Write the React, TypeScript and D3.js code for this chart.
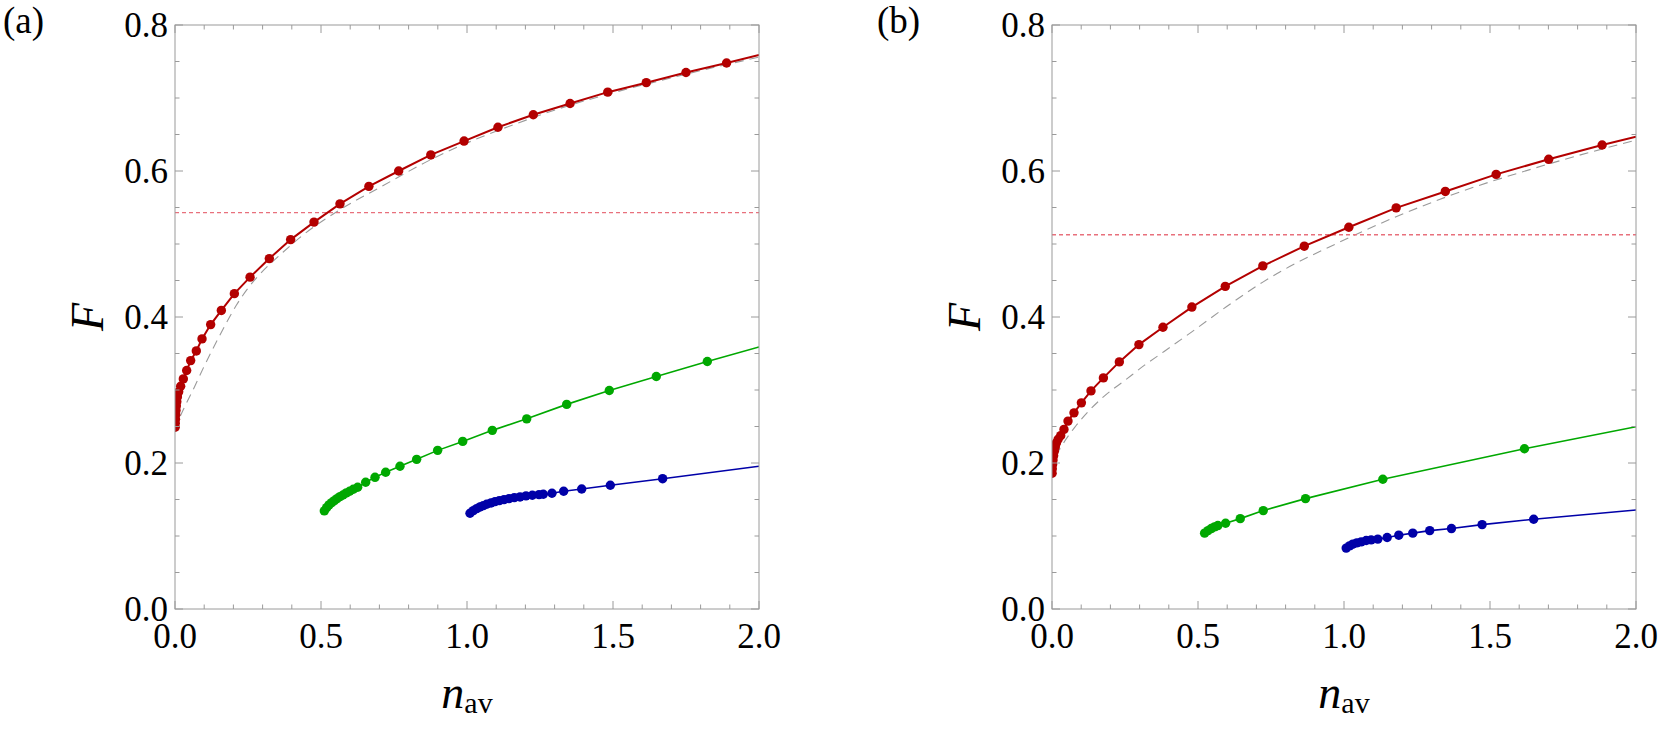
import React, { useEffect, useRef } from 'react';
import * as d3 from 'd3';

type Pt = [number, number];

const xTicks = [0, 0.5, 1.0, 1.5, 2.0];
const yTicks = [0, 0.2, 0.4, 0.6, 0.8];
const panelLabels = ['(a)', '(b)'];

// panel (a)
const redA: Pt[] = [
    [0.0005, 0.249], [0.001, 0.2545], [0.0016, 0.26], [0.0024, 0.266], [0.0034, 0.272],
    [0.0046, 0.278], [0.0062, 0.284], [0.0082, 0.2905], [0.0126, 0.2975], [0.0194, 0.3052],
    [0.0285, 0.3152], [0.040, 0.3267], [0.0537, 0.3403], [0.073, 0.3535], [0.0925, 0.370],
    [0.1221, 0.3896], [0.1587, 0.409], [0.2033, 0.432], [0.257, 0.4546], [0.323, 0.480],
    [0.396, 0.506], [0.476, 0.530], [0.565, 0.555], [0.664, 0.579], [0.766, 0.600],
    [0.876, 0.622], [0.990, 0.641], [1.106, 0.660], [1.227, 0.677], [1.353, 0.6925],
    [1.482, 0.708], [1.614, 0.721], [1.750, 0.735], [1.889, 0.748],
];
const greenA: Pt[] = [
    [0.5114, 0.1344], [0.5194, 0.1389], [0.5274, 0.1426], [0.5365, 0.1457], [0.5457, 0.1484],
    [0.5548, 0.1512], [0.565, 0.1539], [0.5753, 0.1562], [0.5868, 0.159], [0.5982, 0.1613],
    [0.6107, 0.164], [0.6256, 0.1668], [0.653, 0.1736], [0.685, 0.1804], [0.7215, 0.1873],
    [0.7705, 0.1955], [0.8276, 0.205], [0.8995, 0.2173], [0.9853, 0.2296], [1.0867, 0.2447],
    [1.2045, 0.2605], [1.3414, 0.2803], [1.4873, 0.2993], [1.6483, 0.3185], [1.823, 0.339],
];
const blueA: Pt[] = [
    [1.0103, 0.1312], [1.0216, 0.1348], [1.0332, 0.1375], [1.0445, 0.1398], [1.0559, 0.1416],
    [1.0673, 0.1435], [1.0822, 0.1453], [1.0959, 0.1471], [1.1107, 0.1484], [1.1267, 0.1498],
    [1.1438, 0.1512], [1.162, 0.1526], [1.1815, 0.1535], [1.202, 0.1549], [1.2237, 0.1558],
    [1.2466, 0.1567], [1.2613, 0.1572], [1.291, 0.1586], [1.331, 0.1613], [1.3928, 0.1644],
    [1.4908, 0.1695], [1.670, 0.1785],
];
const guideA: Pt[] = [
    [0, 0.245], [0.0103, 0.2565], [0.033, 0.277], [0.0616, 0.30], [0.1016, 0.334],
    [0.147, 0.370], [0.21, 0.416], [0.396, 0.498], [0.565, 0.547], [0.702, 0.5776],
    [0.873, 0.615], [1.227, 0.6733], [1.75, 0.7326], [2.0, 0.756],
];
// red, green, blue values where the curves leave the frame at n_av = 2
const endsA = [0.759, 0.359, 0.1955];
const thresholdA = 0.543;

// panel (b)
const redB: Pt[] = [
    [0.0004, 0.186], [0.001, 0.192], [0.002, 0.198], [0.0035, 0.204], [0.0055, 0.210],
    [0.008, 0.216], [0.0112, 0.222], [0.0152, 0.2275], [0.021, 0.2325], [0.0298, 0.2375],
    [0.041, 0.246], [0.0548, 0.2574], [0.0753, 0.2687], [0.1006, 0.2824], [0.1335, 0.2988],
    [0.176, 0.3166], [0.2306, 0.3385], [0.2977, 0.3622], [0.380, 0.386], [0.479, 0.4136],
    [0.5934, 0.4419], [0.722, 0.470], [0.864, 0.497], [1.0165, 0.523], [1.1787, 0.5495],
    [1.347, 0.572], [1.521, 0.5954], [1.701, 0.616], [1.884, 0.6356],
];
const greenB: Pt[] = [
    [0.5226, 0.1039], [0.534, 0.1074], [0.5455, 0.1102], [0.5568, 0.1125], [0.568, 0.1143],
    [0.5945, 0.1175], [0.6447, 0.1238], [0.7235, 0.1348], [0.8682, 0.1512], [1.133, 0.1777],
    [1.618, 0.2195],
];
const blueB: Pt[] = [
    [1.0075, 0.0834], [1.0188, 0.0865], [1.030, 0.0888], [1.0438, 0.0906], [1.0588, 0.092],
    [1.076, 0.0938], [1.093, 0.0947], [1.1157, 0.0957], [1.1478, 0.0979], [1.1876, 0.1011],
    [1.2355, 0.1039], [1.2936, 0.1074], [1.368, 0.1102], [1.473, 0.1156], [1.6496, 0.123],
];
const guideB: Pt[] = [
    [0, 0.19], [0.0034, 0.1996], [0.032, 0.2223], [0.0777, 0.2488], [0.123, 0.270],
    [0.180, 0.292], [0.249, 0.313], [0.317, 0.334], [0.374, 0.350], [0.48, 0.380],
    [0.597, 0.414], [0.722, 0.4478], [1.0165, 0.5085], [1.347, 0.564], [1.701, 0.6096],
    [2.0, 0.6424],
];
const endsB = [0.6468, 0.2496, 0.1357];
const thresholdB = 0.5126;

const seriesColors = ['#b30000', '#00a800', '#0000a8'];
const seriesWidths = [2, 1.6, 1.6];

const panels = [
    { series: [redA, greenA, blueA], ends: endsA, guide: guideA, threshold: thresholdA },
    { series: [redB, greenB, blueB], ends: endsB, guide: guideB, threshold: thresholdB },
];

const W = 1665, H = 742;
const plotW = 584, plotH = 584;
const origins = [[175, 25], [1052, 25]];
const serif = '"Liberation Serif", "Times New Roman", serif';
const frameColor = '#9a9a9a';

export default function App() {
    const svgRef = useRef<SVGSVGElement>(null);

    useEffect(() => {
        if (!svgRef.current) return;
        const svg = d3.select(svgRef.current);
        svg.selectAll('*').remove();

        const x = d3.scaleLinear().domain([0, 2]).range([0, plotW]);
        const y = d3.scaleLinear().domain([0, 0.8]).range([plotH, 0]);

        panels.forEach((p, i) => {
            const [ox, oy] = origins[i];
            const g = svg.append('g').attr('transform', `translate(${ox},${oy})`);

            svg.append('defs').append('clipPath').attr('id', `plot-clip-${i}`)
                .append('rect').attr('width', plotW).attr('height', plotH);

            const plot = g.append('g').attr('clip-path', `url(#plot-clip-${i})`);

            // gray dashed reference curve
            const smooth = d3.line<Pt>().x(d => x(d[0])).y(d => y(d[1])).curve(d3.curveMonotoneX);
            plot.append('path')
                .datum(p.guide)
                .attr('fill', 'none')
                .attr('stroke', '#9a9a9a')
                .attr('stroke-width', 1.1)
                .attr('stroke-dasharray', '9,6')
                .attr('d', smooth);

            // horizontal threshold
            plot.append('line')
                .attr('x1', 0).attr('x2', plotW)
                .attr('y1', y(p.threshold)).attr('y2', y(p.threshold))
                .attr('stroke', '#e8707c')
                .attr('stroke-width', 1.4)
                .attr('stroke-dasharray', '4,3');

            const straight = d3.line<Pt>().x(d => x(d[0])).y(d => y(d[1]));
            p.series.forEach((pts, k) => {
                plot.append('path')
                    .datum([...pts, [2, p.ends[k]] as Pt])
                    .attr('fill', 'none')
                    .attr('stroke', seriesColors[k])
                    .attr('stroke-width', seriesWidths[k])
                    .attr('d', straight);
            });
            p.series.forEach((pts, k) => {
                plot.selectAll(null)
                    .data(pts)
                    .enter().append('circle')
                    .attr('cx', d => x(d[0]))
                    .attr('cy', d => y(d[1]))
                    .attr('r', 4.7)
                    .attr('fill', seriesColors[k]);
            });

            // frame and ticks on all four sides
            g.append('rect')
                .attr('width', plotW).attr('height', plotH)
                .attr('fill', 'none')
                .attr('stroke', frameColor)
                .attr('stroke-width', 1);

            const xMinor = d3.range(0, 21).map(v => v / 10);
            const yMinor = d3.range(0, 17).map(v => v / 20);
            const isMajor = (v: number, step: number) => Math.abs(v / step - Math.round(v / step)) < 1e-6;

            xMinor.forEach(v => {
                const len = isMajor(v, 0.5) ? 8 : 4.5;
                g.append('line').attr('x1', x(v)).attr('x2', x(v)).attr('y1', plotH).attr('y2', plotH - len)
                    .attr('stroke', frameColor);
                g.append('line').attr('x1', x(v)).attr('x2', x(v)).attr('y1', 0).attr('y2', len)
                    .attr('stroke', frameColor);
            });
            yMinor.forEach(v => {
                const len = isMajor(v, 0.2) ? 8 : 4.5;
                g.append('line').attr('y1', y(v)).attr('y2', y(v)).attr('x1', 0).attr('x2', len)
                    .attr('stroke', frameColor);
                g.append('line').attr('y1', y(v)).attr('y2', y(v)).attr('x1', plotW).attr('x2', plotW - len)
                    .attr('stroke', frameColor);
            });

            yTicks.forEach(v => {
                g.append('text')
                    .attr('x', -7)
                    .attr('y', y(v) + 12)
                    .attr('text-anchor', 'end')
                    .attr('font-family', serif)
                    .attr('font-size', 35)
                    .text(v.toFixed(1));
            });
            xTicks.forEach(v => {
                g.append('text')
                    .attr('x', x(v))
                    .attr('y', plotH + 39)
                    .attr('text-anchor', 'middle')
                    .attr('font-family', serif)
                    .attr('font-size', 35)
                    .text(v.toFixed(1));
            });

            // axis titles
            const xt = g.append('text')
                .attr('x', plotW / 2)
                .attr('y', 683)
                .attr('text-anchor', 'middle')
                .attr('font-family', serif);
            xt.append('tspan').attr('font-style', 'italic').attr('font-size', 46).text('n');
            xt.append('tspan').attr('font-size', 30).attr('dy', 5).text('av');

            g.append('text')
                .attr('transform', `translate(-72,${plotH / 2}) rotate(-90)`)
                .attr('text-anchor', 'middle')
                .attr('font-family', serif)
                .attr('font-style', 'italic')
                .attr('font-size', 46)
                .text('F');

            svg.append('text')
                .attr('x', i === 0 ? 3 : 877)
                .attr('y', 33)
                .attr('font-family', serif)
                .attr('font-size', 37)
                .text(panelLabels[i]);
        });
    }, []);

    return (
        <div style={{ position: 'absolute', left: 0, top: 0, background: '#fff' }}>
            <svg ref={svgRef} width={W} height={H} style={{ display: 'block' }} />
        </div>
    );
}
